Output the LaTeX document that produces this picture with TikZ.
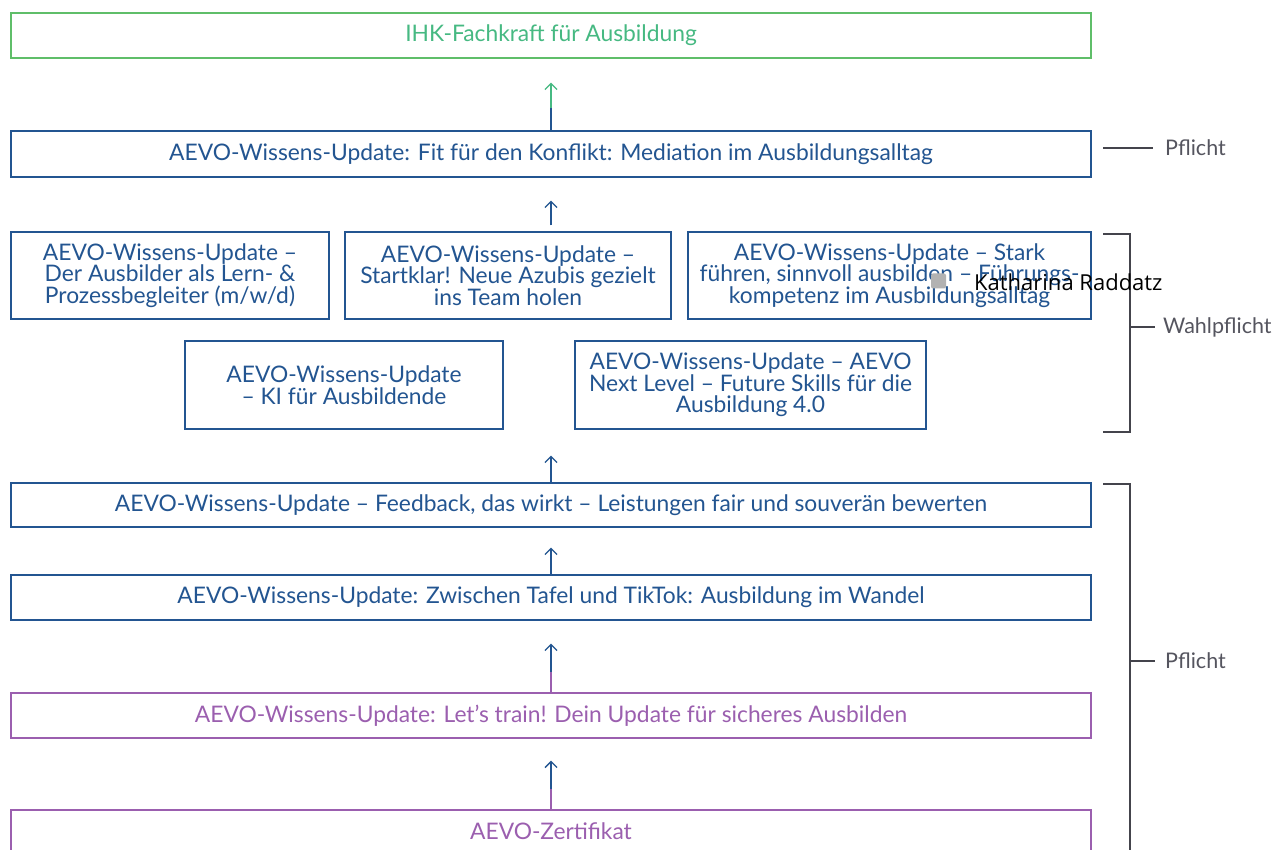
\documentclass[tikz,border=0pt]{standalone}
\usepackage{fontspec}
\setmainfont{Lato}
\newfontfamily\notefont{Open Sans}
\usetikzlibrary{arrows.meta,calc}
\definecolor{cgreen}{RGB}{95,190,105}
\definecolor{cgreentext}{RGB}{70,185,130}
\definecolor{cblue}{RGB}{35,85,145}
\definecolor{cpurple}{RGB}{155,95,175}
\definecolor{cgrey}{RGB}{85,85,95}
\tikzset{
  bx/.style={draw=cblue, line width=1.3pt, inner sep=0pt, align=center, text=cblue,
    font=\fontsize{22.8}{21.5}\selectfont},
  gbx/.style={bx, draw=cgreen, text=cgreentext},
  pbx/.style={bx, draw=cpurple, text=cpurple},
  up/.style={draw=cblue, line width=1.4pt, -{Straight Barb[length=6pt,width=12pt,line width=1.3pt]}},
  brk/.style={draw=cgrey!80!black, line width=1.3pt},
  lbl/.style={text=cgrey, anchor=west, inner sep=0pt, font=\fontsize{21.5}{24}\selectfont},
}
\begin{document}
\begin{tikzpicture}[x=1pt,y=-1pt]
\useasboundingbox (0,0) rectangle (1277,850);
\fill[white] (0,0) rectangle (1277,850);
\begin{scope}
\clip (0,0) rectangle (1277,850);
\node[gbx, minimum width=1080, minimum height=45] (top) at (551,35.5) {IHK-Fachkraft für Ausbildung};
\node[bx, minimum width=1080, minimum height=46] (b2) at (551,154) {AEVO-Wissens-Update: Fit für den Konflikt: Mediation im Ausbildungsalltag};
\node[bx, minimum width=318, minimum height=87] (A) at (170,275.5) {AEVO-Wissens-Update –\\Der Ausbilder als Lern- \&\\Prozessbegleiter (m/w/d)};
\node[bx, minimum width=326, minimum height=87] (B) at (508,275.5) {AEVO-Wissens-Update –\\Startklar! Neue Azubis gezielt\\ins Team holen};
\node[bx, minimum width=403, minimum height=87] (C) at (889.5,275.5) {AEVO-Wissens-Update – Stark\\führen, sinnvoll ausbilden – Führungs-\\kompetenz im Ausbildungsalltag};
\node[bx, minimum width=318, minimum height=88] (D) at (344,385) {AEVO-Wissens-Update\\– KI für Ausbildende};
\node[bx, minimum width=351, minimum height=88] (E) at (750.5,385) {AEVO-Wissens-Update – AEVO\\Next Level – Future Skills für die\\Ausbildung 4.0};
\node[bx, minimum width=1080, minimum height=44] (F) at (551,505) {AEVO-Wissens-Update – Feedback, das wirkt – Leistungen fair und souverän bewerten};
\node[bx, minimum width=1080, minimum height=45] (G) at (551,597.5) {AEVO-Wissens-Update: Zwischen Tafel und TikTok: Ausbildung im Wandel};
\node[pbx, minimum width=1080, minimum height=45] (H) at (551,715.5) {AEVO-Wissens-Update: Let’s train! Dein Update für sicheres Ausbilden};
\node[pbx, minimum width=1080, minimum height=46, text depth=0pt] (I) at (551,833) {};
\node[text=cpurple, font=\fontsize{22.8}{21.5}\selectfont, inner sep=0pt] (It) at (551,831) {AEVO-Zertifikat};

% arrows
\path[up, draw=cgreentext, shorten >=24pt] (b2.north) -- (top.south);
\draw[cblue, line width=1.4pt] (b2.north) -- ++(0,-22);
\path[up, shorten <=6pt, shorten >=23pt] (B.north -| b2.south) -- (b2.south);
\path[up, shorten >=26pt] (F.north) -- (F.north |- D.south);
\path[up, shorten >=20pt] (G.north) -- (F.south);
\path[up, shorten >=23pt] (H.north) -- (G.south);
\draw[cpurple, line width=1.4pt] (H.north) -- ++(0,-20);
\path[up, shorten >=22pt] (I.north) -- (H.south);
\draw[cpurple, line width=1.4pt] (I.north) -- ++(0,-20);

% side labels
\coordinate (p1) at (1103,148);
\draw[brk] (p1) -- ++(50,0) coordinate (p1e);
\node[lbl] (l1) at ($(p1e)+(12,0)$) {Pflicht};

\coordinate (w1) at (1103,234);
\coordinate (w2) at (1103,432);
\draw[brk] (w1) -- (1130,234) -- (1130,432) -- (w2);
\draw[brk] (1130,327) -- (1155,327) coordinate (wt);
\node[lbl] (l2) at ($(wt)+(8,0)$) {Wahlpflicht};

\coordinate (q1) at (1103,484);
\draw[brk] (q1) -- (1130,484) -- (1130,860);
\draw[brk] (1130,661) -- (1155,661) coordinate (qt);
\node[lbl] (l3) at ($(qt)+(10,0)$) {Pflicht};

% overlay cursor label
\node[fill=black!30, rounded corners=2pt, minimum size=15pt, inner sep=0pt] (dot) at (938.5,281) {};
\node[anchor=west, inner sep=0pt, font=\notefont\fontsize{22}{24}\selectfont] (kr) at (974,282) {Katharina Raddatz};
\end{scope}
\end{tikzpicture}
\end{document}
